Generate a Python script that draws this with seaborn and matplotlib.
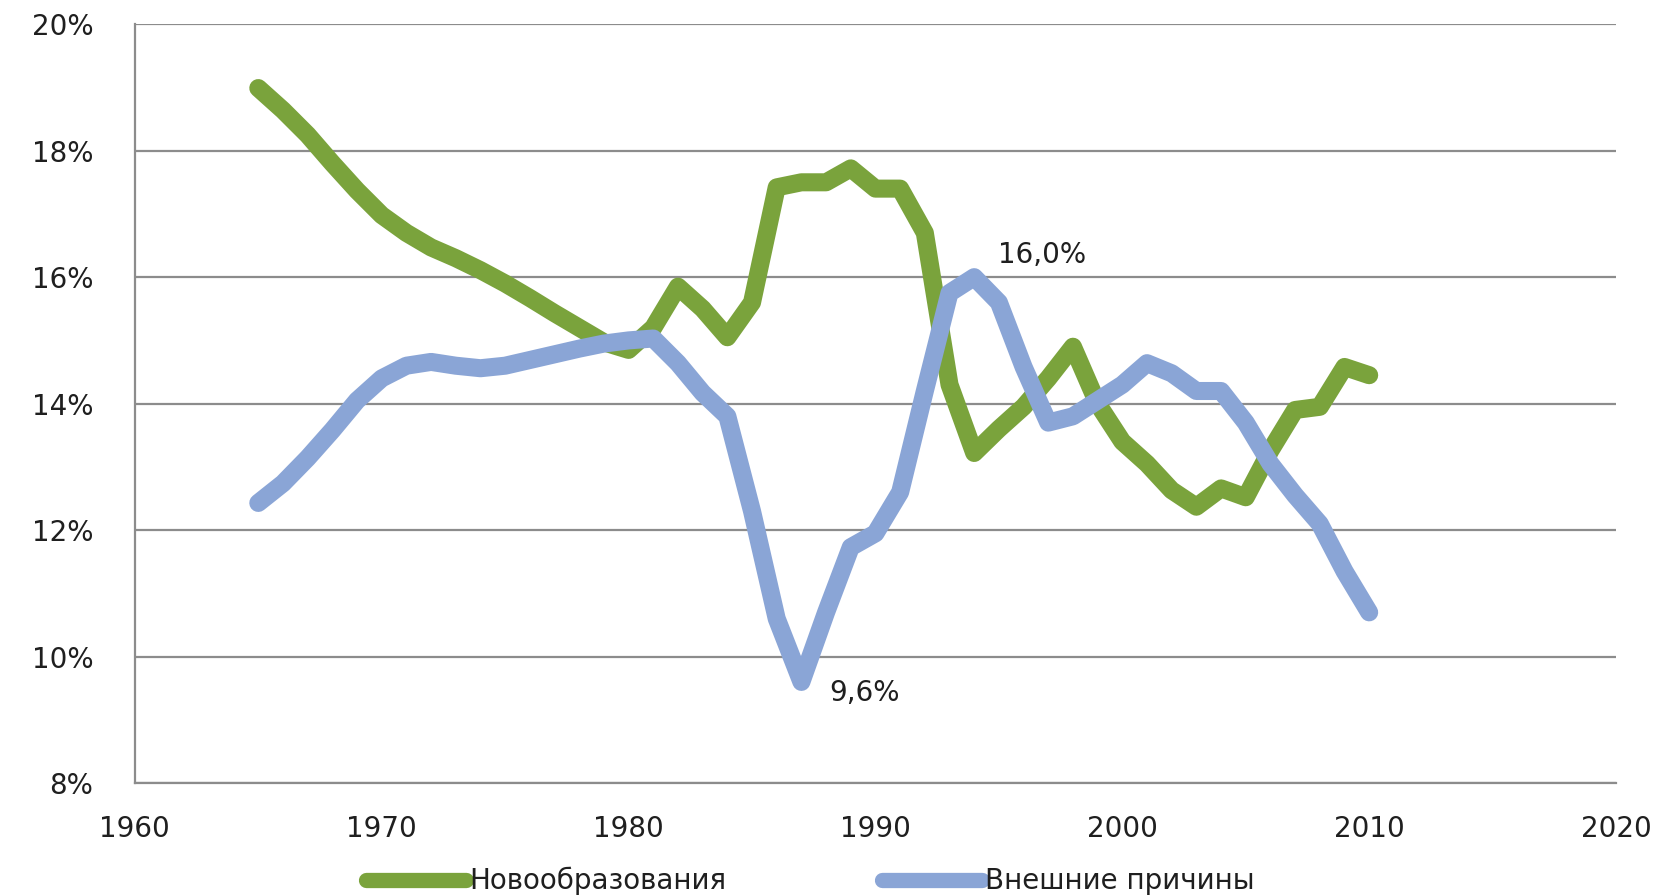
import matplotlib
matplotlib.use("Agg")
import matplotlib.pyplot as plt
import matplotlib.ticker as mticker
import pandas as pd
import seaborn as sns

# Data (share of deaths, %)
years = list(range(1965, 2011))
neoplasms = [18.99, 18.64, 18.25, 17.8, 17.37, 16.98, 16.7, 16.47, 16.3, 16.11,
             15.9, 15.67, 15.43, 15.2, 14.97, 14.85, 15.2, 15.85, 15.5, 15.05,
             15.6, 17.42, 17.5, 17.5, 17.72, 17.4, 17.4, 16.7, 14.3, 13.22,
             13.6, 13.95, 14.4, 14.9, 14.0, 13.4, 13.05, 12.63, 12.37, 12.66,
             12.52, 13.26, 13.9, 13.95, 14.58, 14.45]
external = [12.43, 12.74, 13.14, 13.58, 14.05, 14.4, 14.6, 14.66, 14.6, 14.56,
            14.6, 14.69, 14.78, 14.87, 14.95, 15.0, 15.03, 14.64, 14.17, 13.8,
            12.3, 10.6, 9.6, 10.7, 11.73, 11.95, 12.6, 14.2, 15.75, 16.0,
            15.6, 14.58, 13.7, 13.8, 14.05, 14.3, 14.64, 14.48, 14.2, 14.2,
            13.7, 13.05, 12.55, 12.1, 11.35, 10.7]
series_names = ["Новообразования", "Внешние причины"]
colors = ["#7aa33c", "#8aa5d6"]
labelled = [(1994, "Внешние причины"), (1987, "Внешние причины")]

df = pd.DataFrame({
    "year": years * 2,
    "value": neoplasms + external,
    "series": [series_names[0]] * len(years) + [series_names[1]] * len(years),
})

sns.set_style("white")
plt.rcParams["font.family"] = ["DejaVu Sans"]
text_color = "#1f1f1f"
grid_color = "#8c8c8c"
fs = 20
lw = 13

fig = plt.figure(figsize=(16.65, 8.96), dpi=100)
ax = fig.add_axes([0.081, 0.126, 0.8896, 0.847])

for y in range(8, 21, 2):
    ax.axhline(y, color=grid_color, lw=1.6, zorder=0)

sns.lineplot(data=df, x="year", y="value", hue="series", palette=colors,
             lw=lw, ax=ax, legend=False, sort=False,
             solid_capstyle="round", solid_joinstyle="round")

# data labels
offsets = [(17, 16), (20, -8)]
for (yr, name), (dx, dy) in zip(labelled, offsets):
    v = df[(df.year == yr) & (df.series == name)].value.iloc[0]
    ax.annotate(f"{v:.1f}%".replace(".", ","), (yr, v), xytext=(dx, dy),
                textcoords="offset points", ha="left", va="center",
                fontsize=fs, color=text_color)

ax.set_xlim(1960, 2020)
ax.set_ylim(8, 20)
ax.set_xticks(range(1960, 2021, 10))
ax.set_yticks(range(8, 21, 2))
ax.yaxis.set_major_formatter(mticker.FuncFormatter(lambda v, p: f"{v:.0f}%"))
ax.set_xlabel("")
ax.set_ylabel("")
for s in ["top", "right"]:
    ax.spines[s].set_visible(False)
for s in ["left", "bottom"]:
    ax.spines[s].set_color(grid_color)
    ax.spines[s].set_linewidth(1.6)
ax.tick_params(axis="both", which="both", direction="out", length=10,
               width=1.6, color=grid_color, labelsize=fs, labelcolor=text_color)
ax.tick_params(axis="y", pad=20)
ax.tick_params(axis="x", pad=13)

handles = [plt.Line2D([], [], color=c, lw=lw - 2, solid_capstyle="round") for c in colors]
fig.legend(handles, series_names, loc="center left", bbox_to_anchor=(0.205, 0.0167),
           ncol=2, frameon=False, fontsize=fs, handlelength=3.6,
           handletextpad=0.1, columnspacing=5.6, labelcolor=text_color)

fig.savefig("out.png", dpi=100)
